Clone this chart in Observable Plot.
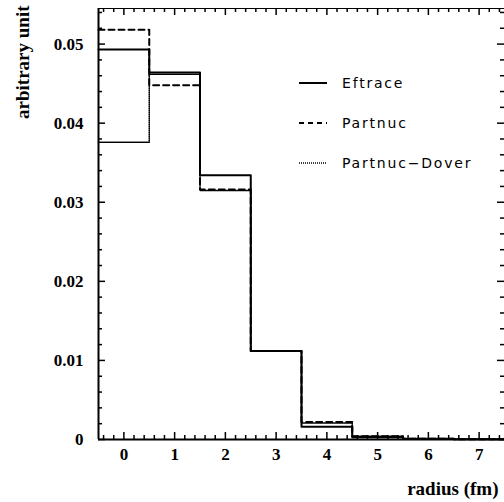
<!DOCTYPE html>
<html>
<head>
<meta charset="utf-8">
<script src="https://cdn.jsdelivr.net/npm/d3@7"></script>
<script src="https://cdn.jsdelivr.net/npm/@observablehq/plot@0.6"></script>
<style>
  html, body { margin: 0; padding: 0; background: #fff; }
  #chart { position: relative; width: 504px; height: 502px; }
</style>
</head>
<body>
<div id="chart"></div>
<script>
// Bin centres (radius, fm)
const bins = [0, 1, 2, 3, 4, 5, 6, 7];
// Series values (arbitrary unit)
const eftrace = [0.0493, 0.0464, 0.0334, 0.0112, 0.0016, 0.0003, 0.0001, 0.00003];
const partnuc = [0.0518, 0.0448, 0.0316, 0.0112, 0.0022, 0.0004, 0.0001, 0.00003];
const partnucDover = [0.0376, 0.0462, 0.0315, 0.0112, 0.0021, 0.0004, 0.0001, 0.00003];
const seriesNames = ["Eftrace", "Partnuc", "Partnuc\u2212Dover"];
// Tick labels
const xTickValues = [0, 1, 2, 3, 4, 5, 6, 7];
const yTickValues = [0, 0.01, 0.02, 0.03, 0.04, 0.05];
const xMinorTicks = [-0.4, -0.2, 0.2, 0.4, 0.6, 0.8, 1.2, 1.4, 1.6, 1.8, 2.2, 2.4, 2.6, 2.8, 3.2, 3.4, 3.6, 3.8, 4.2, 4.4, 4.6, 4.8, 5.2, 5.4, 5.6, 5.8, 6.2, 6.4, 6.6, 6.8, 7.2, 7.4];
const yMinorTicks = [0.002, 0.004, 0.006, 0.008, 0.012, 0.014, 0.016, 0.018, 0.022, 0.024, 0.026, 0.028, 0.032, 0.034, 0.036, 0.038, 0.042, 0.044, 0.046, 0.048, 0.052, 0.054];

function steps(values) {
  return values.flatMap((v, i) => [
    {x: bins[i] - 0.5, y: v},
    {x: bins[i] + 0.5, y: v}
  ]);
}

const W = 504, H = 502, ML = 98, MR = 0, MT = 8, MB = 63;
const FW = W - ML - MR, FH = H - MT - MB;
const xDom = [-0.5, 7.5], yDom = [0, 0.0545];
// tick lengths converted from pixels to data units
const ux = px => px * (xDom[1] - xDom[0]) / FW;
const uy = px => px * (yDom[1] - yDom[0]) / FH;
const MAJ = 7, MIN = 4;
const serif = "'Liberation Serif', 'Times New Roman', serif";
const tk = {stroke: "#000", strokeWidth: 1.5};

const plot = Plot.plot({
  width: W,
  height: H,
  marginLeft: ML,
  marginRight: MR,
  marginTop: MT,
  marginBottom: MB,
  style: {fontFamily: serif, fontWeight: "bold", fontSize: "17px", background: "#fff", color: "#000"},
  x: {domain: xDom},
  y: {domain: yDom},
  marks: [
    Plot.line(steps(partnucDover), {x: "x", y: "y", stroke: "#000", strokeWidth: 1.5, strokeDasharray: "1,1"}),
    Plot.line(steps(partnuc), {x: "x", y: "y", stroke: "#000", strokeWidth: 2, strokeDasharray: "6,4"}),
    Plot.line(steps(eftrace), {x: "x", y: "y", stroke: "#000", strokeWidth: 2}),
    Plot.frame({stroke: "#000", strokeWidth: 1}),
    // ticks, pointing inward on all four sides
    Plot.ruleX(xTickValues, {y1: yDom[0], y2: yDom[0] + uy(MAJ), ...tk}),
    Plot.ruleX(xMinorTicks, {y1: yDom[0], y2: yDom[0] + uy(MIN), ...tk}),
    Plot.ruleX(xTickValues, {y1: yDom[1], y2: yDom[1] - uy(MAJ), ...tk}),
    Plot.ruleX(xMinorTicks, {y1: yDom[1], y2: yDom[1] - uy(MIN), ...tk}),
    Plot.ruleY(yTickValues, {x1: xDom[0], x2: xDom[0] + ux(MAJ), ...tk}),
    Plot.ruleY(yMinorTicks, {x1: xDom[0], x2: xDom[0] + ux(MIN), ...tk}),
    Plot.ruleY(yTickValues, {x1: xDom[1], x2: xDom[1] - ux(MAJ), ...tk}),
    Plot.ruleY(yMinorTicks, {x1: xDom[1], x2: xDom[1] - ux(MIN), ...tk}),
    // heavy left and bottom axis lines
    Plot.ruleX([-0.5], {stroke: "#000", strokeWidth: 2}),
    Plot.ruleY([0], {stroke: "#000", strokeWidth: 2}),
    // tick labels
    Plot.axisX({anchor: "bottom", ticks: xTickValues, tickSize: 0, tickPadding: 8, tickFormat: d => String(d), label: null, fontSize: 17, fontWeight: "bold"}),
    Plot.axisY({anchor: "left", ticks: yTickValues, tickSize: 0, tickPadding: 15, tickFormat: d => d === 0 ? "0" : d.toFixed(2), label: null, fontSize: 17, fontWeight: "bold"}),
    // axis titles
    Plot.text(["arbitrary unit"], {frameAnchor: "top-left", dx: -76, dy: -3, rotate: -90, textAnchor: "end", lineAnchor: "middle", fontSize: 19, fontWeight: "bold", fontFamily: serif}),
    Plot.text(["radius (fm)"], {frameAnchor: "bottom-right", dx: -6, dy: 49, textAnchor: "end", lineAnchor: "middle", fontSize: 19, fontWeight: "bold", fontFamily: serif})
  ]
});

document.getElementById("chart").appendChild(plot);

// Legend inside the frame
const svg = d3.select(plot);
const legend = svg.append("g").attr("class", "legend").attr("text-anchor", "start");
const dashes = [null, "5,4", "1,1"];
const widths = [2, 2, 1.5];
seriesNames.forEach((name, i) => {
  const cy = 83 + i * 40;
  legend.append("line")
    .attr("x1", 299).attr("x2", 327).attr("y1", cy).attr("y2", cy)
    .attr("stroke", "#000").attr("stroke-width", widths[i])
    .attr("stroke-dasharray", dashes[i]);
  legend.append("text")
    .attr("x", 342).attr("y", cy).attr("dy", "0.35em")
    .attr("text-anchor", "start")
    .attr("font-family", "'DejaVu Sans', sans-serif")
    .attr("font-weight", "normal")
    .attr("font-size", 14)
    .attr("letter-spacing", "1.8px")
    .attr("fill", "#000")
    .text(name);
});
</script>
</body>
</html>
